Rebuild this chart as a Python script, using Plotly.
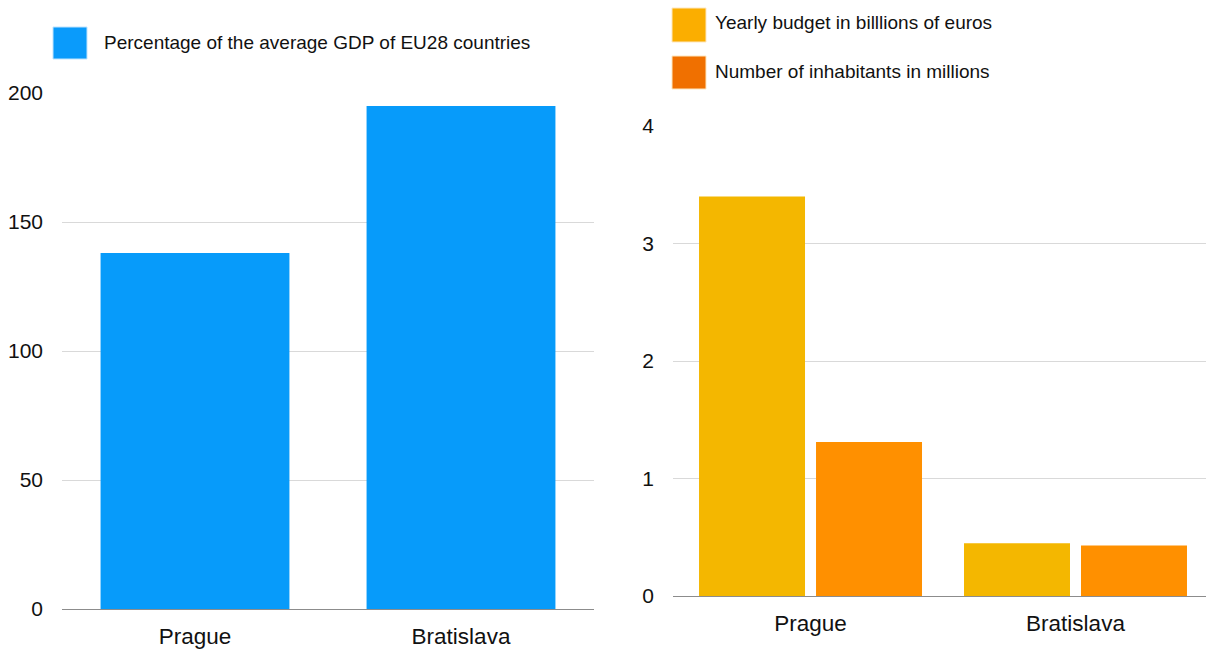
import plotly.graph_objects as go

cities = ["Prague", "Bratislava"]
gdp_pct = [138, 195]
budget_bn = [3.4, 0.45]
inhabitants_m = [1.31, 0.43]

gdp_name = "Percentage of the average GDP of EU28 countries"
budget_name = "Yearly budget in billlions of euros"
inhab_name = "Number of inhabitants in millions"

BLUE = "#079BFA"
YELLOW = "#F4B700"
ORANGE = "#FF9000"
FONT = "Liberation Sans, Arial, Helvetica, sans-serif"

W, H = 1206, 650

fig = go.Figure()
fig.add_trace(go.Bar(x=cities, y=gdp_pct, name=gdp_name, marker_color=BLUE,
                     marker_line_width=0, xaxis="x", yaxis="y", showlegend=False))
fig.add_trace(go.Bar(x=cities, y=budget_bn, name=budget_name, marker_color=YELLOW,
                     marker_line_width=0, xaxis="x2", yaxis="y2", showlegend=False))
fig.add_trace(go.Bar(x=cities, y=inhabitants_m, name=inhab_name, marker_color=ORANGE,
                     marker_line_width=0, xaxis="x2", yaxis="y2", showlegend=False))

def px(x):
    return x / W

def py(y):
    return 1 - y / H

axis_common = dict(showgrid=False, showline=True, linecolor="#8c8c8c", linewidth=1,
                   ticks="", tickfont=dict(size=22.5, color="#111", family=FONT),
                   ticklabelstandoff=7, fixedrange=True, automargin=False)
yaxis_common = dict(showgrid=True, gridcolor="#d9d9d9", gridwidth=1, zeroline=False,
                    showline=False, ticks="", tickfont=dict(size=21, color="#111", family=FONT),
                    ticklabelstandoff=18, fixedrange=True, automargin=False)

fig.update_layout(
    width=W, height=H,
    autosize=False,
    margin=dict(l=0, r=0, t=0, b=0, autoexpand=False),
    paper_bgcolor="white", plot_bgcolor="white",
    font=dict(family=FONT, color="#111"),
    barmode="group", bargap=0.29, bargroupgap=0.0,
    xaxis=dict(domain=[px(62), px(594)], anchor="y", **axis_common),
    yaxis=dict(domain=[py(609), py(93)], range=[0, 200], tickvals=[0, 50, 100, 150, 200],
               anchor="x", **yaxis_common),
    xaxis2=dict(domain=[px(673), 1.0], range=[-0.519, 1.4925], anchor="y2", **axis_common),
    yaxis2=dict(domain=[py(596), py(126)], range=[0, 4], tickvals=[0, 1, 2, 3, 4],
                anchor="x2", **yaxis_common),
)

fig.data[0].update(width=0.71)
bar_w = 0.4
gap = 0.0415
fig.data[1].update(width=bar_w, offset=-(bar_w + gap / 2))
fig.data[2].update(width=bar_w, offset=gap / 2)

# Custom legends
shapes = []
annotations = []
legend_items = [
    (53, 27, 87, 59, "#0A9BFB", gdp_name, 102, 43),
    (672, 8, 706, 42, "#FBAE00", budget_name, 713, 23),
    (672, 56, 706, 89, "#F07000", inhab_name, 713, 72),
]
for x0, y0, x1, y1, col, txt, tx, ty in legend_items:
    shapes.append(dict(type="rect", xref="paper", yref="paper",
                       x0=px(x0), x1=px(x1), y0=py(y1), y1=py(y0),
                       fillcolor=col, line=dict(width=1, color="#fde7c0" if col != "#0A9BFB" else "#bfe3fd")))
    annotations.append(dict(xref="paper", yref="paper", x=px(tx), y=py(ty),
                            xanchor="left", yanchor="middle", text=txt, showarrow=False,
                            font=dict(size=19, color="#111", family=FONT)))
fig.update_layout(shapes=shapes, annotations=annotations)

fig.write_html("out.html", config={"displayModeBar": False},
               post_script="document.body.style.margin='0';document.body.style.overflow='hidden';")
